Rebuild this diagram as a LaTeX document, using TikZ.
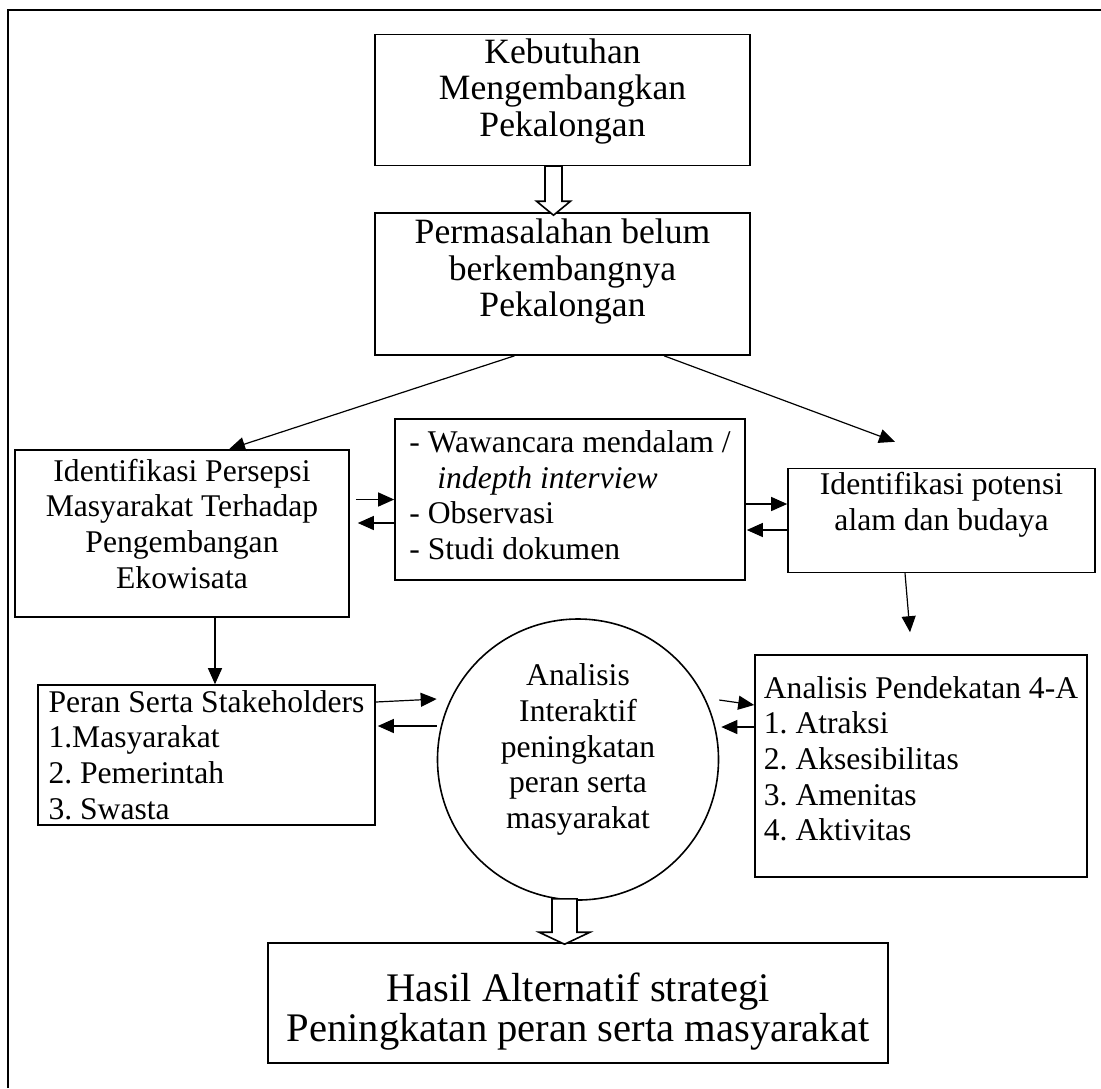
\documentclass[tikz,border=0pt]{standalone}
\usepackage{fontspec}
\setmainfont{Liberation Serif}
\usetikzlibrary{arrows.meta, positioning, calc}
\frenchspacing

% push a centred text block upwards inside a fixed box
\newcommand{\lift}[1]{\rule[-#1]{0pt}{#1}}
% open block arrow: start, tip, half shaft, half head, head length
\newcommand{\hollowarrow}[5]{%
  \draw[hollow] let \p1=(#1), \p2=(#2) in
    (\x1-#3,\y1) -- (\x1-#3,\y2+#5) -- (\x1-#4,\y2+#5) -- (\x1,\y2)
    -- (\x1+#4,\y2+#5) -- (\x1+#3,\y2+#5) -- (\x1+#3,\y1) -- cycle;}

\begin{document}
\begin{tikzpicture}[
    x=0.5pt, y=-0.5pt,
    font=\fontsize{15.8}{17.8}\selectfont,
    box/.style={
        rectangle,
        draw,
        line width=0.8pt,
        align=center,
        inner sep=2pt
    },
    listbox/.style={box, align=left},
    bigtext/.style={font=\fontsize{17.8}{18.2}\selectfont},
    arr/.style={-{Triangle[length=8pt,width=7pt]}, line width=0.6pt},
    hollow/.style={draw, line width=0.8pt, fill=white}
]
\useasboundingbox (0,0) rectangle (1101,1088);

% frame
\draw[line width=1pt] (8,1088) -- (8,10) -- (1101,10);

\node[box, bigtext, minimum width=187.5pt, minimum height=62pt] (kebutuhan) at (562.5,100)
    {Kebutuhan\\Mengembangkan\\Pekalongan\lift{12.6pt}};
\node[box, bigtext, minimum width=187.5pt, minimum height=71pt] (permasalahan) at (562.5,284)
    {Permasalahan belum\\berkembangnya\\Pekalongan\lift{16pt}};

\node[box, minimum width=167pt, minimum height=83.5pt] (persepsi) at (182,533.5)
    {Identifikasi Persepsi\\Masyarakat Terhadap\\Pengembangan\\Ekowisata\lift{10pt}};
\node[listbox, minimum width=175pt, minimum height=80.5pt] (metode) at (570,499.5)
    {- Wawancara mendalam /\\\hspace*{14pt}\textit{indepth interview}\\- Observasi\\- Studi dokumen\lift{4.5pt}};
\node[box, minimum width=153.5pt, minimum height=47.5pt] (potensi) at (941.5,520.5)
    {Identifikasi potensi\\alam dan budaya\lift{19pt}};

\node[listbox, minimum width=168.5pt, minimum height=70pt] (peran) at (206.5,755)
    {Peran Serta Stakeholders\\1.Masyarakat\\2. Pemerintah\\3. Swasta};
\node[circle, draw, line width=0.8pt, minimum size=140.5pt, align=center, inner sep=0pt] (interaktif) at (578,759.5)
    {Analisis\\Interaktif\\peningkatan\\peran serta\\masyarakat\lift{13.4pt}};
\node[listbox, minimum width=166pt, minimum height=111pt] (pendekatan) at (921,766)
    {Analisis Pendekatan 4-A\\1. Atraksi\\2. Aksesibilitas\\3. Amenitas\\4. Aktivitas\lift{7.5pt}};

\node[box, minimum width=310pt, minimum height=60pt, font=\fontsize{20.3}{20}\selectfont] (hasil) at (578,1003)
    {\rule{0pt}{22.5pt}Hasil Alternatif strategi\\Peningkatan peran serta masyarakat};

% block arrows
\hollowarrow{[xshift=-4.5pt]kebutuhan.south}{[yshift=-1.5pt]permasalahan.north}{4.25pt}{8.5pt}{7pt}
\hollowarrow{[xshift=-6.75pt,yshift=1pt]interaktif.south}{[yshift=-1pt]hasil.north}{6.25pt}{12.75pt}{6pt}

% arrows
\draw[arr] ([xshift=-24pt]permasalahan.south) -- ([xshift=23.5pt]persepsi.north);
\draw[arr] ([xshift=50.75pt]permasalahan.south) -- ([shift={(-23.25pt,13pt)}]potensi.north);

\draw[arr, shorten <=3pt] (persepsi.east |- metode.west) -- (metode.west);
\draw[arr, shorten >=4pt] ([yshift=-11.75pt]metode.west) -- ([yshift=-11.75pt]metode.west -| persepsi.east);
\draw[arr] ([yshift=-2.25pt]metode.east) -- ([yshift=-2.25pt]metode.east -| potensi.west);
\draw[arr, shorten >=0.5pt] ([yshift=-15.25pt]metode.east -| potensi.west) -- ([yshift=-15.25pt]metode.east);

\draw[arr] ([xshift=16.5pt]persepsi.south) -- ([xshift=16.5pt]persepsi.south |- peran.north);
\draw[arr] ([xshift=-18.25pt]potensi.south) -- ([shift={(-5.5pt,11pt)}]pendekatan.north);

\draw[arr] ([yshift=26.5pt]peran.east) -- ([yshift=30.25pt]interaktif.west);
\draw[arr, shorten >=1pt] ([yshift=16.75pt]interaktif.west) -- ([yshift=14.5pt]peran.east);
\draw[arr] ([yshift=29.75pt]interaktif.east) -- ([yshift=30.5pt]pendekatan.west);
\draw[arr, shorten >=1pt] ([yshift=19.5pt]pendekatan.west) -- ([yshift=16.25pt]interaktif.east);

\end{tikzpicture}
\end{document}
